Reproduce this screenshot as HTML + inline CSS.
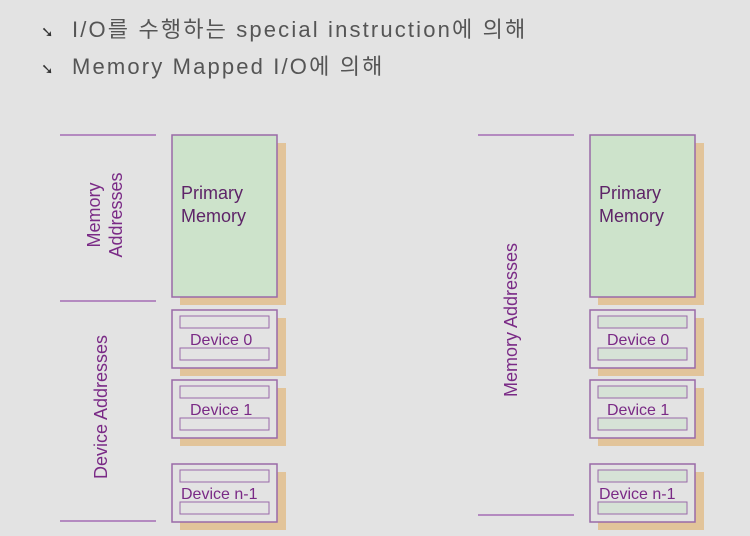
<!DOCTYPE html>
<html><head><meta charset="utf-8"><style>
html,body{margin:0;padding:0;background:#e3e3e3;}
svg{display:block;}
</style></head><body>
<svg width="750" height="536" viewBox="0 0 750 536" xmlns="http://www.w3.org/2000/svg">
<rect width="750" height="536" fill="#e3e3e3"/>
<g font-family="Liberation Sans, Noto Sans CJK KR, sans-serif" fill="#555" font-size="22" letter-spacing="2.15">
<text x="41" y="37" font-size="15" fill="#333" letter-spacing="0">➘</text>
<text x="72" y="37">I/O를 수행하는 special instruction에 의해</text>
<text x="41" y="74" font-size="15" fill="#333" letter-spacing="0">➘</text>
<text x="72" y="74">Memory Mapped I/O에 의해</text>
</g>
<g stroke="#b48ac0" stroke-width="2">
<line x1="60" y1="135" x2="156" y2="135"/>
<line x1="60" y1="301" x2="156" y2="301"/>
<line x1="60" y1="521" x2="156" y2="521"/>
<line x1="478" y1="135" x2="574" y2="135"/>
<line x1="478" y1="515" x2="574" y2="515"/>
</g>
<g font-family="Liberation Sans, sans-serif" fill="#7a2a86" font-size="18">
<text transform="translate(100,215) rotate(-90)" text-anchor="middle">Memory</text>
<text transform="translate(122,215) rotate(-90)" text-anchor="middle">Addresses</text>
<text transform="translate(107,407) rotate(-90)" text-anchor="middle">Device Addresses</text>
<text transform="translate(517,320) rotate(-90)" text-anchor="middle">Memory Addresses</text>
</g>
<g>
<rect x="180" y="143" width="106" height="162" fill="#e2c49a"/>
<rect x="172" y="135" width="105" height="162" fill="#cde3cb" stroke="#9a6aa8" stroke-width="1.5"/>
<rect x="180" y="318" width="106" height="58" fill="#e2c49a"/>
<rect x="172" y="310" width="105" height="58" fill="#e3e3e3" stroke="#9a6aa8" stroke-width="1.5"/>
<rect x="180" y="316" width="89" height="12" fill="#e3e3e3" stroke="#9a6aa8"/>
<rect x="180" y="348" width="89" height="12" fill="#e3e3e3" stroke="#9a6aa8"/>
<rect x="180" y="388" width="106" height="58" fill="#e2c49a"/>
<rect x="172" y="380" width="105" height="58" fill="#e3e3e3" stroke="#9a6aa8" stroke-width="1.5"/>
<rect x="180" y="386" width="89" height="12" fill="#e3e3e3" stroke="#9a6aa8"/>
<rect x="180" y="418" width="89" height="12" fill="#e3e3e3" stroke="#9a6aa8"/>
<rect x="180" y="472" width="106" height="58" fill="#e2c49a"/>
<rect x="172" y="464" width="105" height="58" fill="#e3e3e3" stroke="#9a6aa8" stroke-width="1.5"/>
<rect x="180" y="470" width="89" height="12" fill="#e3e3e3" stroke="#9a6aa8"/>
<rect x="180" y="502" width="89" height="12" fill="#e3e3e3" stroke="#9a6aa8"/>
</g>
<g>
<rect x="598" y="143" width="106" height="162" fill="#e2c49a"/>
<rect x="590" y="135" width="105" height="162" fill="#cde3cb" stroke="#9a6aa8" stroke-width="1.5"/>
<rect x="598" y="318" width="106" height="58" fill="#e2c49a"/>
<rect x="590" y="310" width="105" height="58" fill="#e3e3e3" stroke="#9a6aa8" stroke-width="1.5"/>
<rect x="598" y="316" width="89" height="12" fill="#d6e2d6" stroke="#9a6aa8"/>
<rect x="598" y="348" width="89" height="12" fill="#d6e2d6" stroke="#9a6aa8"/>
<rect x="598" y="388" width="106" height="58" fill="#e2c49a"/>
<rect x="590" y="380" width="105" height="58" fill="#e3e3e3" stroke="#9a6aa8" stroke-width="1.5"/>
<rect x="598" y="386" width="89" height="12" fill="#d6e2d6" stroke="#9a6aa8"/>
<rect x="598" y="418" width="89" height="12" fill="#d6e2d6" stroke="#9a6aa8"/>
<rect x="598" y="472" width="106" height="58" fill="#e2c49a"/>
<rect x="590" y="464" width="105" height="58" fill="#e3e3e3" stroke="#9a6aa8" stroke-width="1.5"/>
<rect x="598" y="470" width="89" height="12" fill="#d6e2d6" stroke="#9a6aa8"/>
<rect x="598" y="502" width="89" height="12" fill="#d6e2d6" stroke="#9a6aa8"/>
</g>
<g font-family="Liberation Sans, sans-serif" font-size="18" fill="#5e2468">
<text x="181" y="199">Primary</text>
<text x="181" y="222">Memory</text>
<text x="599" y="199">Primary</text>
<text x="599" y="222">Memory</text>
</g>
<g font-family="Liberation Sans, sans-serif" font-size="16" fill="#7a2a86">
<text x="190" y="345">Device 0</text>
<text x="190" y="415">Device 1</text>
<text x="181" y="499">Device n-1</text>
<text x="607" y="345">Device 0</text>
<text x="607" y="415">Device 1</text>
<text x="599" y="499">Device n-1</text>
</g>
</svg>
</body></html>
